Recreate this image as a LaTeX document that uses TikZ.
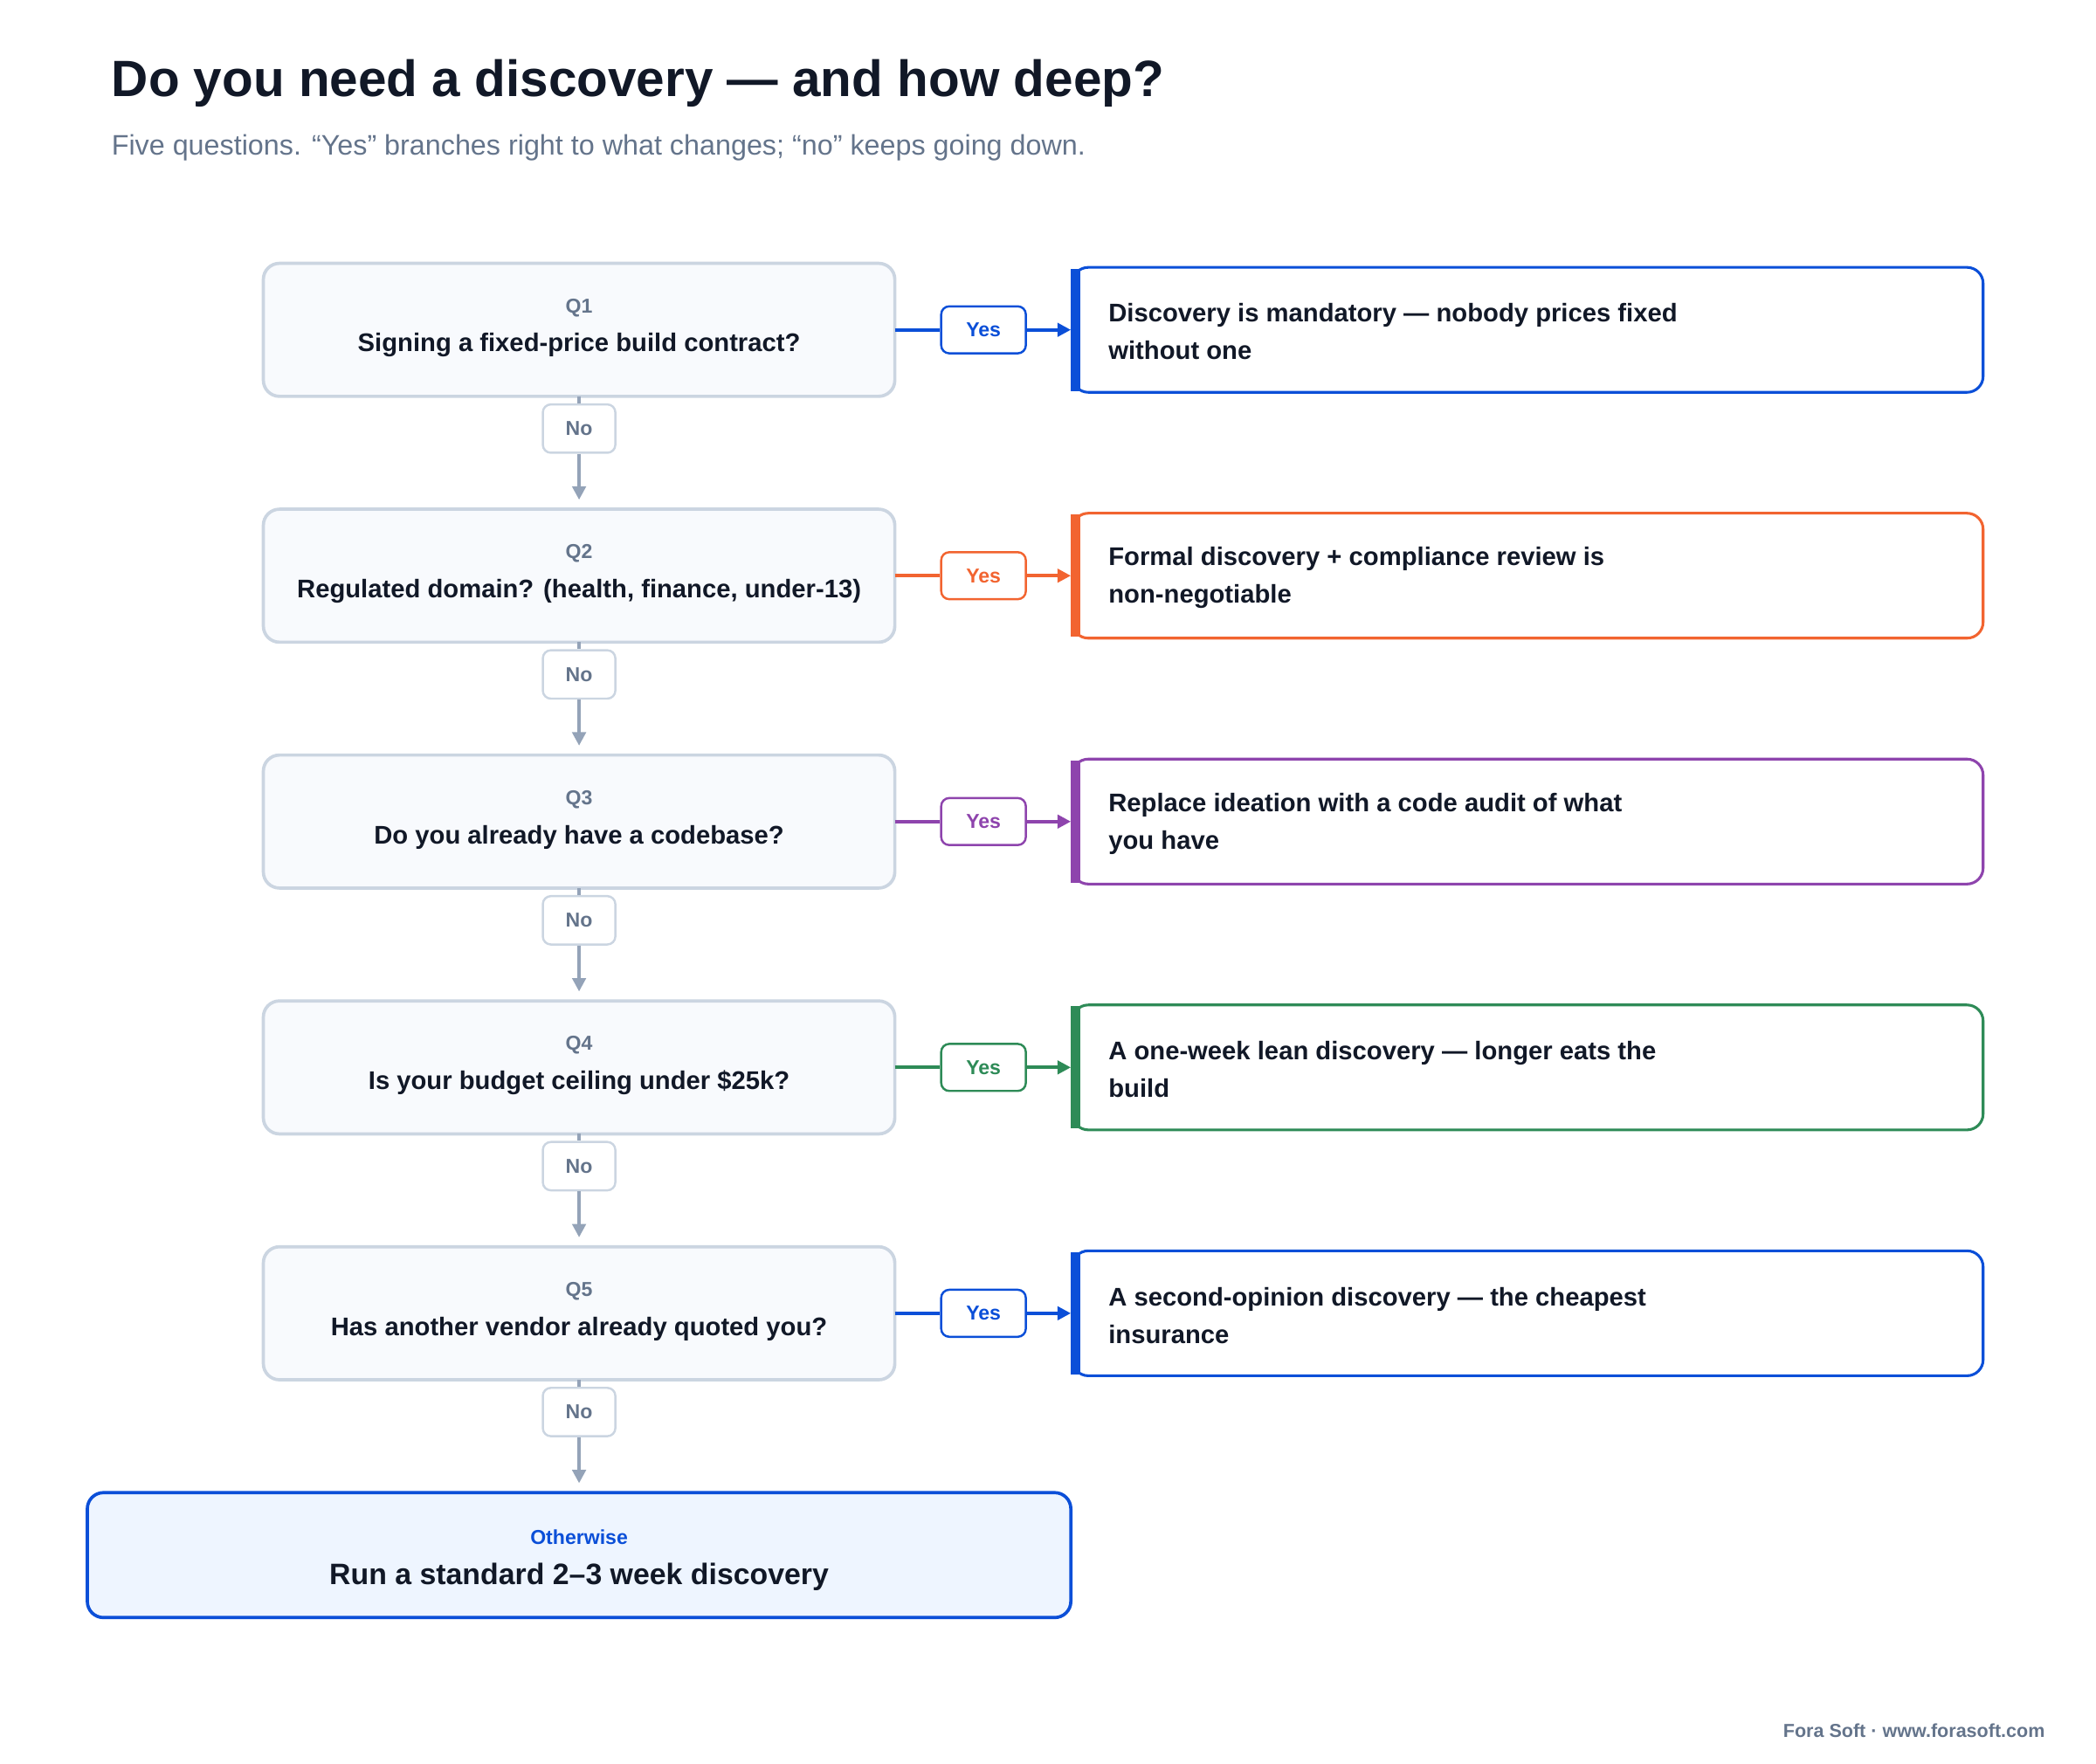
\documentclass[tikz,border=0pt]{standalone}
\usepackage{fontspec}
\setmainfont{Liberation Sans}
\usetikzlibrary{arrows.meta}
\definecolor{ink}{HTML}{111827}
\definecolor{sub}{HTML}{64748B}
\definecolor{qgray}{HTML}{CBD5E1}
\definecolor{qfill}{HTML}{F8FAFD}
\definecolor{arr}{HTML}{94A3B8}
\definecolor{cblue}{HTML}{0B4FD8}
\definecolor{corange}{HTML}{F26430}
\definecolor{cpurple}{HTML}{8E44AD}
\definecolor{cgreen}{HTML}{2E8B57}
\definecolor{ofill}{HTML}{EEF5FF}
\begin{document}
\begin{tikzpicture}[x=0.5pt,y=-0.5pt,
  qbox/.style={draw=qgray,line width=1.2pt,fill=qfill,rounded corners=6pt},
  nobox/.style={draw=qgray,line width=0.8pt,fill=white,rounded corners=3pt,minimum width=27pt,minimum height=18pt,font=\fontsize{7.5}{9}\selectfont\bfseries,text=sub,inner sep=0pt},
  yesbox/.style={draw=#1,line width=0.8pt,fill=white,rounded corners=3pt,minimum width=31.5pt,minimum height=17.5pt,font=\fontsize{7.5}{9}\selectfont\bfseries,text=#1,inner sep=0pt},
  rbox/.style={draw=#1,line width=1pt,fill=white,rounded corners=6pt},
  arrow/.style={-{Triangle[length=5pt,width=5pt]},line width=1.2pt}]
\useasboundingbox (0,0) rectangle (1560,1313);
\node[anchor=west,font=\fontsize{19}{22}\selectfont\bfseries,text=ink] (title) at (76,62) {Do you need a discovery — and how deep?};
\node[anchor=west,font=\fontsize{10.5}{12}\selectfont,text=sub] (subt) at (76,110) {Five questions. “Yes” branches right to what changes; “no” keeps going down.};
\foreach \i/\q/\t/\c/\ra/\rb in {
 1/Q1/Signing a fixed-price build contract?/cblue/Discovery is mandatory — nobody prices fixed/without one,
 2/Q2/{Regulated domain? (health, finance, under-13)}/corange/Formal discovery + compliance review is/non-negotiable,
 3/Q3/Do you already have a codebase?/cpurple/Replace ideation with a code audit of what/you have,
 4/Q4/Is your budget ceiling under \$25k?/cgreen/A one-week lean discovery — longer eats the/build,
 5/Q5/Has another vendor already quoted you?/cblue/A second-opinion discovery — the cheapest/insurance}{
  \pgfmathsetmacro{\yy}{196+183*(\i-1)}
  \draw[qbox] (196,\yy) rectangle (666,\yy+99);
  \coordinate (qr\i) at (666,\yy+49.5);
  \coordinate (qb\i) at (431,\yy+99);
  \node[font=\fontsize{7.5}{9}\selectfont\bfseries,text=sub] (ql\i) at (431,\yy+33) {\q};
  \node[font=\fontsize{9.5}{11}\selectfont\bfseries,text=ink] (qt\i) at (431,\yy+61) {\t};
  \draw[rbox=\c] (798,\yy+3) rectangle (1476,\yy+96);
  \fill[\c] (797,\yy+4) rectangle (804,\yy+95);
  \coordinate (rl\i) at (797,\yy+49.5);
  \node[anchor=west,align=left,font=\fontsize{9.5}{14}\selectfont\bfseries,text=ink] (rt\i) at (818,\yy+51) {\ra\\\rb};
  \node[yesbox=\c] (y\i) at (732,\yy+49.5) {Yes};
  \draw[\c,line width=1.2pt] (qr\i) -- (y\i);
  \draw[\c,arrow] (y\i) -- (rl\i);
  \node[nobox] (n\i) at (431,\yy+123) {No};
  \coordinate (nt\i) at (431,\yy+176);
  \draw[arr,line width=1.2pt] (qb\i) -- (n\i);
  \draw[arr,arrow] (n\i) -- (nt\i);
}
\draw[draw=cblue,line width=1.2pt,fill=ofill,rounded corners=6pt] (65,1111) rectangle (797,1204);
\node[font=\fontsize{7.5}{9}\selectfont\bfseries,text=cblue] (ow) at (431,1144) {Otherwise};
\node[font=\fontsize{11}{13}\selectfont\bfseries,text=ink] (ot) at (431,1174) {Run a standard 2–3 week discovery};
\node[anchor=east,font=\fontsize{7}{9}\selectfont\bfseries,text=sub] (foot) at (1529,1288) {Fora Soft · www.forasoft.com};
\end{tikzpicture}
\end{document}
